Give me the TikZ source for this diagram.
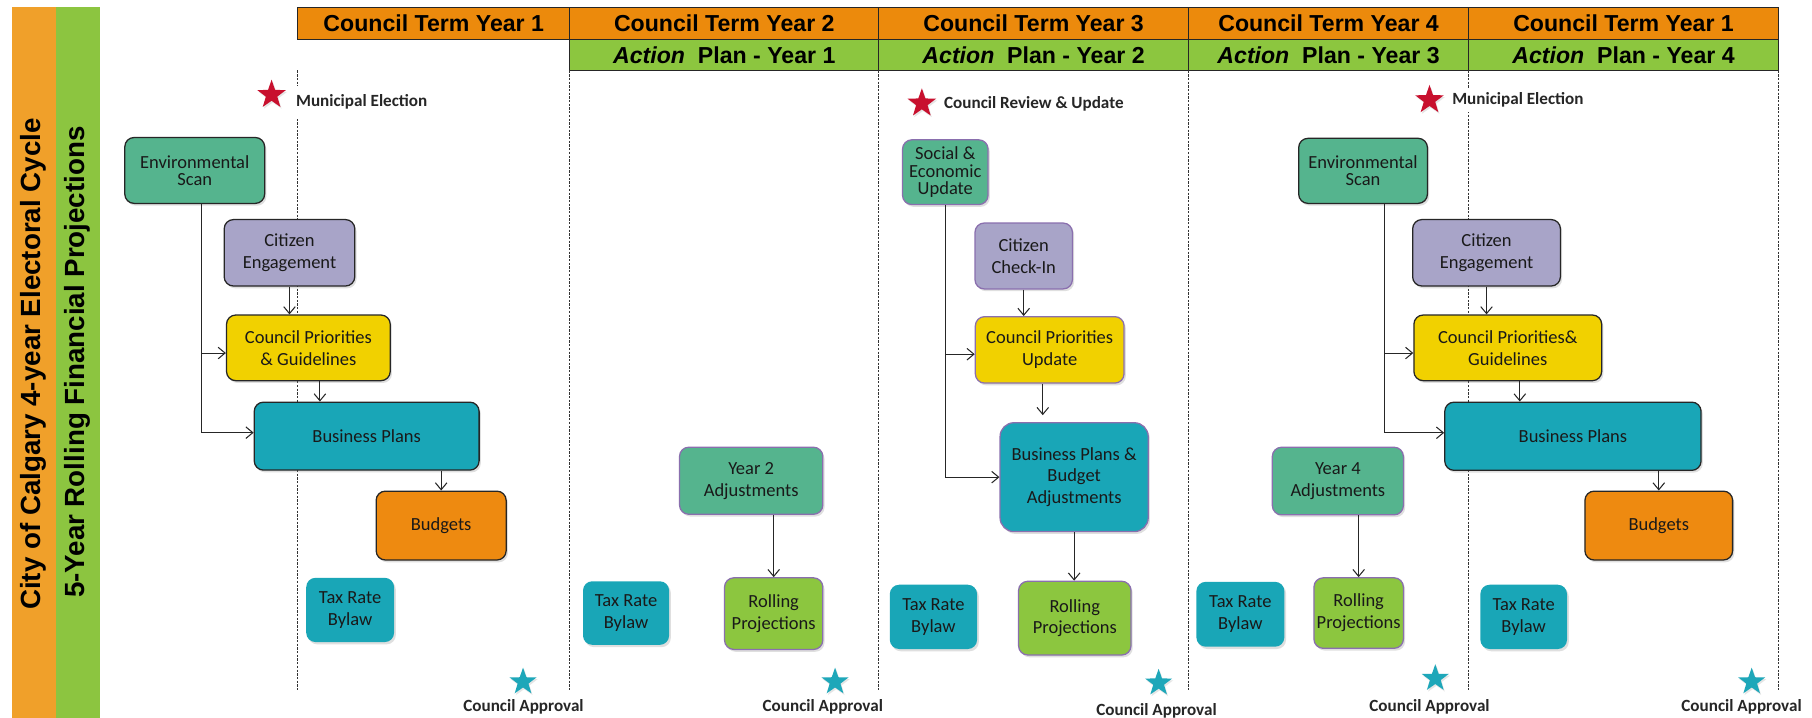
\documentclass[tikz,border=0pt]{standalone}
\usepackage{fontspec}
\setmainfont{Carlito}
\newfontfamily\arialf{Liberation Sans}
\usetikzlibrary{arrows.meta,shapes.geometric,shadows}
\definecolor{stripO}{HTML}{F0A02A}
\definecolor{stripG}{HTML}{8CC540}
\definecolor{hdrO}{HTML}{EC8A0C}
\definecolor{hdrG}{HTML}{8CC63F}
\definecolor{esG}{HTML}{55B48E}
\definecolor{lav}{HTML}{A8A4C8}
\definecolor{yel}{HTML}{F1D100}
\definecolor{teal}{HTML}{19A6B7}
\definecolor{budO}{HTML}{EE8A10}
\definecolor{rollG}{HTML}{8CC63F}
\definecolor{redstar}{HTML}{C8102E}
\definecolor{tealstar}{HTML}{1EA7B9}
\definecolor{bpurple}{HTML}{8A6FAE}
\begin{document}
\begin{tikzpicture}[x=1pt,y=-1pt,
  box/.style={rounded corners=8pt, align=center, inner sep=1pt, text=black!90,
    font=\fontsize{16}{19}\selectfont,
    drop shadow={shadow xshift=1.5pt,shadow yshift=-2pt,opacity=0.25}},
  dk/.style={draw=black!85, line width=1.1pt},
  pu/.style={draw=bpurple, line width=1.1pt},
  hdr/.style={draw=black!85, line width=0.9pt, inner sep=0pt, minimum height=27.7pt,
    font=\arialf\bfseries\fontsize{20}{24}\selectfont},
  sep/.style={draw=black!80, line width=0.8pt, dash pattern=on 2pt off 1.2pt},
  arr/.style={draw=black!85, line width=0.9pt, -{Straight Barb[length=6pt,width=10pt]}},
  lbl/.style={font=\bfseries\fontsize{14.8}{17}\selectfont, text=black!85, fill=white, inner xsep=1pt, inner ysep=4pt},
  rstar/.style={star, star points=5, star point ratio=2.5, minimum size=26pt, inner sep=0pt, fill=redstar,
    drop shadow={shadow xshift=1pt,shadow yshift=-1.5pt,opacity=0.2}},
  tstar/.style={star, star points=5, star point ratio=2.5, minimum size=24.5pt, inner sep=0pt, fill=tealstar,
    drop shadow={shadow xshift=1pt,shadow yshift=-1.5pt,opacity=0.2}},
  appr/.style={font=\bfseries\fontsize{14.8}{17}\selectfont, text=black!85, inner sep=1pt}
]
\useasboundingbox (0,0) rectangle (1568,621);
\fill[white] (0,0) rectangle (1568,621);

% side strips
\fill[stripO] (10,6.3) rectangle (48.2,621);
\fill[stripG] (48.2,6.3) rectangle (86.5,621);
\node[rotate=90, font=\arialf\bfseries\fontsize{24}{28}\selectfont] (t1) at (29.1,315) {City of Calgary 4-year Electoral Cycle};
\node[rotate=90, font=\arialf\bfseries\fontsize{24}{28}\selectfont] (t2) at (67.4,313.4) {5-Year Rolling Financial Projections};

% headers
\node[hdr, fill=hdrO, minimum width=235.4pt] (h1) at (375.3,20.15) {Council Term Year 1};
\node[hdr, fill=hdrO, minimum width=267.5pt] (h2) at (626.75,20.15) {Council Term Year 2};
\node[hdr, fill=hdrO, minimum width=267.8pt] (h3) at (894.4,20.15) {Council Term Year 3};
\node[hdr, fill=hdrO, minimum width=242.7pt] (h4) at (1149.65,20.15) {Council Term Year 4};
\node[hdr, fill=hdrO, minimum width=267.8pt] (h5) at (1404.9,20.15) {Council Term Year 1};
\node[hdr, fill=hdrG, minimum height=27pt, minimum width=267.5pt] (g2) at (626.75,47.5) {{\itshape Action}\ \ Plan - Year 1};
\node[hdr, fill=hdrG, minimum height=27pt, minimum width=267.8pt] (g3) at (894.4,47.5) {{\itshape Action}\ \ Plan - Year 2};
\node[hdr, fill=hdrG, minimum height=27pt, minimum width=242.7pt] (g4) at (1149.65,47.5) {{\itshape Action}\ \ Plan - Year 3};
\node[hdr, fill=hdrG, minimum height=27pt, minimum width=267.8pt] (g5) at (1404.9,47.5) {{\itshape Action}\ \ Plan - Year 4};

% dashed separators
\foreach \c in {257.6,493,760.5,1028.3,1271,1538.8}{
  \draw[sep] (\c,61) -- (\c,597);
}

% stars and labels
\node[rstar] (rs1) at (235,82) {};
\node[lbl, anchor=west, inner ysep=8pt] (me1) at (255,88.5) {Municipal Election};
\node[rstar] (rs3) at (797.7,89.4) {};
\node[lbl, anchor=west] (cr3) at (815.8,90) {Council Review \& Update};
\node[rstar] (rs4) at (1237,86.5) {};
\node[lbl, anchor=west] (me4) at (1255.5,86.5) {Municipal Election};

\node[tstar] (ts1) at (452.6,590) {};
\node[tstar] (ts2) at (722.6,590) {};
\node[tstar] (ts3) at (1002.6,591) {};
\node[tstar] (ts4) at (1242,587) {};
\node[tstar] (ts5) at (1515.8,590) {};
\node[appr] (ca1) at (453,612) {Council Approval};
\node[appr] (ca2) at (712,612) {Council Approval};
\node[appr] (ca3) at (1000.8,615) {Council Approval};
\node[appr] (ca4) at (1237,611.5) {Council Approval};
\node[appr] (ca5) at (1507,611.5) {Council Approval};

% column 1
\node[box, dk, fill=esG, minimum width=121pt, minimum height=57pt, font=\fontsize{16}{15}\selectfont] (es1) at (168.5,147.5) {Environmental\\Scan};
\node[box, dk, fill=lav, minimum width=113pt, minimum height=57.5pt] (ce1) at (250.5,218.75) {Citizen\\Engagement};
\node[box, dk, fill=yel, minimum width=141.7pt, minimum height=56.8pt] (cpg1) at (266.85,301) {Council Priorities\\\& Guidelines};
\node[box, dk, fill=teal, minimum width=194.6pt, minimum height=58.8pt] (bp1) at (317.3,377.4) {Business Plans};
\node[box, dk, fill=budO, minimum width=112.5pt, minimum height=59.6pt] (bud1) at (381.75,454.8) {Budgets};
\node[box, fill=teal, minimum width=76pt, minimum height=55.6pt] (tax1) at (303,527.8) {Tax Rate\\Bylaw};

% column 2
\node[box, pu, fill=esG, minimum width=124pt, minimum height=58pt] (y2) at (650,416) {Year 2\\Adjustments};
\node[box, pu, fill=rollG, minimum width=85pt, minimum height=62pt] (rp2) at (669.5,531) {Rolling\\Projections};
\node[box, fill=teal, minimum width=74.5pt, minimum height=55pt] (tax2) at (541.75,530.5) {Tax Rate\\Bylaw};

% column 3
\node[box, pu, fill=esG, minimum width=74pt, minimum height=56pt, font=\fontsize{16}{15}\selectfont] (se3) at (818,149) {Social \&\\Economic\\Update};
\node[box, pu, fill=lav, minimum width=84.3pt, minimum height=57pt] (cc3) at (885.85,221.5) {Citizen\\Check-In};
\node[box, pu, fill=yel, minimum width=128.7pt, minimum height=57.5pt] (cpu3) at (908.35,302.75) {Council Priorities\\Update};
\node[box, pu, fill=teal, rounded corners=12pt, minimum width=128.2pt, minimum height=94.2pt] (bpba3) at (929.5,412.9) {Business Plans \&\\Budget\\Adjustments};
\node[box, pu, fill=rollG, minimum width=97.3pt, minimum height=63.8pt] (rp3) at (930.05,534.9) {Rolling\\Projections};
\node[box, fill=teal, minimum width=75.5pt, minimum height=55.6pt] (tax3) at (807.75,533.8) {Tax Rate\\Bylaw};

% column 4 / 5
\node[box, dk, fill=esG, minimum width=111.4pt, minimum height=56.3pt, font=\fontsize{16}{15}\selectfont] (es4) at (1179.5,147.85) {Environmental\\Scan};
\node[box, dk, fill=lav, minimum width=127.9pt, minimum height=57.5pt] (ce4) at (1286.35,218.75) {Citizen\\Engagement};
\node[box, dk, fill=yel, minimum width=162.5pt, minimum height=56.8pt] (cpg4) at (1304.75,301) {Council Priorities\&\\Guidelines};
\node[box, dk, fill=teal, minimum width=221.8pt, minimum height=59pt] (bp4) at (1361.1,377.5) {Business Plans};
\node[box, dk, fill=budO, minimum width=127.8pt, minimum height=59.6pt] (bud4) at (1435.4,454.8) {Budgets};
\node[box, pu, fill=esG, minimum width=113.4pt, minimum height=58.5pt] (y4) at (1157.7,416.25) {Year 4\\Adjustments};
\node[box, pu, fill=rollG, minimum width=77.4pt, minimum height=61pt] (rp4) at (1175.7,530.5) {Rolling\\Projections};
\node[box, fill=teal, minimum width=76.1pt, minimum height=56.1pt] (tax4) at (1073.35,531.55) {Tax Rate\\Bylaw};
\node[box, fill=teal, minimum width=75pt, minimum height=55.6pt] (tax5) at (1318.5,533.8) {Tax Rate\\Bylaw};

% connectors column 1
\coordinate (es1o) at ([xshift=6pt]es1.south);
\coordinate (bp1w) at ([yshift=3pt]bp1.west);
\coordinate (cpg1w) at ([yshift=-4.5pt]cpg1.west);
\coordinate (cpg1o) at ([xshift=10pt]cpg1.south);
\draw[arr] (es1o) |- (bp1w);
\draw[arr] (es1o |- cpg1w) -- (cpg1w);
\draw[arr] (ce1.south) -- (ce1.south |- cpg1.north);
\draw[arr] (cpg1o) -- (cpg1o |- bp1.north);
\draw[arr] (bud1.north |- bp1.south) -- (bud1.north);

% connectors column 2
\draw[arr] (rp2.north |- y2.south) -- (rp2.north);

% connectors column 3
\coordinate (cpu3w) at ([yshift=-3.75pt]cpu3.west);
\coordinate (cpu3o) at ([xshift=-6pt]cpu3.south);
\draw[arr] (se3.south) |- (bpba3.west);
\draw[arr] (se3.south |- cpu3w) -- (cpu3w);
\draw[arr] (cc3.south) -- (cc3.south |- cpu3.north);
\draw[arr, shorten >=6pt] (cpu3o) -- (cpu3o |- bpba3.north);
\draw[arr] (bpba3.south) -- (bpba3.south |- rp3.north);

% connectors column 4
\coordinate (es4o) at ([xshift=18.8pt]es4.south);
\coordinate (bp4w) at ([yshift=3pt]bp4.west);
\coordinate (cpg4w) at ([yshift=-4.5pt]cpg4.west);
\coordinate (cpg4o) at ([xshift=10.4pt]cpg4.south);
\draw[arr] (es4o) |- (bp4w);
\draw[arr] (es4o |- cpg4w) -- (cpg4w);
\draw[arr] (ce4.south) -- (ce4.south |- cpg4.north);
\draw[arr] (cpg4o) -- (cpg4o |- bp4.north);
\draw[arr] (bud4.north |- bp4.south) -- (bud4.north);
\draw[arr] (rp4.north |- y4.south) -- (rp4.north);
\end{tikzpicture}
\end{document}
